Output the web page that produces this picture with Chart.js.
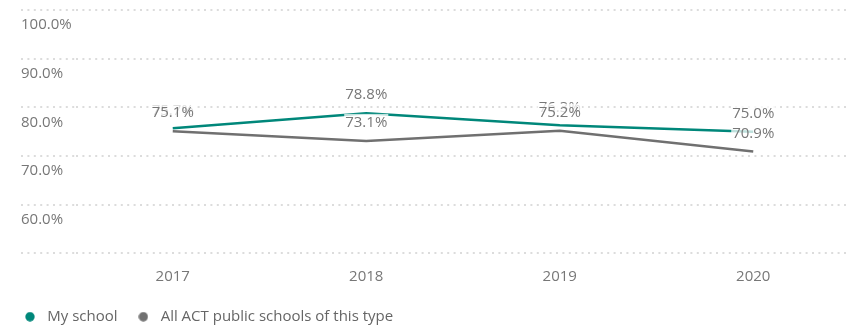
<!DOCTYPE html>
<html>
<head>
<meta charset="utf-8">
<script src="https://cdn.jsdelivr.net/npm/chart.js@4.4.1/dist/chart.umd.min.js"></script>
<style>
  html, body { margin: 0; padding: 0; background: #fff; }
  #wrap { width: 857px; height: 326px; }
</style>
</head>
<body>
<div id="wrap"><canvas id="retentionChart"></canvas></div>
<script>
// Retention rate by year, school vs. system average
const years = ['2017', '2018', '2019', '2020'];
const mySchool = [75.7, 78.8, 76.3, 75.0];
const allSchools = [75.1, 73.1, 75.2, 70.9];
const yTickValues = [50, 60, 70, 80, 90, 100];

const teal = '#00877a';
const grey = '#707070';
const gridColor = '#dcdcdc';
const textColor = '#777';

Chart.defaults.font.family = '"Open Sans", sans-serif';
Chart.defaults.font.size = 15;

// round legend markers
function dot(color) {
    const c = document.createElement('canvas');
    c.width = 10;
    c.height = 10;
    const g = c.getContext('2d');
    g.fillStyle = color;
    g.beginPath();
    g.arc(5, 5, 4.7, 0, Math.PI * 2);
    g.fill();
    return c;
}
const dots = [dot(teal), dot(grey)];

// value labels above each point, on a faded white box
const valueLabels = {
    id: 'valueLabels',
    afterDatasetsDraw(chart) {
        const ctx = chart.ctx;
        ctx.save();
        ctx.font = '15px "Open Sans", sans-serif';
        ctx.textAlign = 'center';
        ctx.textBaseline = 'middle';
        chart.data.datasets.forEach((ds, i) => {
            chart.getDatasetMeta(i).data.forEach((pt, j) => {
                const text = ds.data[j].toFixed(1) + '%';
                const w = ctx.measureText(text).width;
                const y = pt.y - 18;
                ctx.fillStyle = 'rgba(255,255,255,0.75)';
                ctx.fillRect(pt.x - w / 2 - 1, y - 9, w + 2, 18);
                ctx.fillStyle = textColor;
                ctx.fillText(text, pt.x, y);
            });
        });
        ctx.restore();
    }
};

// pull the legend back to the left edge
const legendShift = {
    id: 'legendShift',
    afterLayout(chart) {
        chart.legend.left = 4.2;
    }
};

const ctx = document.getElementById('retentionChart').getContext('2d');
new Chart(ctx, {
    type: 'line',
    data: {
        labels: years,
        datasets: [{
            label: 'My school',
            data: mySchool,
            borderColor: teal,
            backgroundColor: teal,
            borderWidth: 2.5,
            pointRadius: 0,
            tension: 0
        }, {
            label: 'All ACT public schools of this type',
            data: allSchools,
            borderColor: grey,
            backgroundColor: grey,
            borderWidth: 2.5,
            pointRadius: 0,
            tension: 0
        }]
    },
    options: {
        responsive: true,
        maintainAspectRatio: false,
        animation: false,
        layout: { padding: { left: 21, right: 7, top: 10, bottom: -8.2 } },
        scales: {
            x: {
                offset: true,
                grid: { display: false, drawTicks: false },
                border: { display: false },
                ticks: { color: textColor, padding: 14.7 },
                afterFit(s) {
                    s.height = 39.9;
                    s.paddingLeft = 0;
                    s.paddingRight = 0;
                }
            },
            y: {
                min: yTickValues[0],
                max: yTickValues[yTickValues.length - 1],
                border: { display: false, dash: [2, 4.4] },
                grid: {
                    color: gridColor,
                    lineWidth: 2,
                    tickLength: 55,
                    tickColor: gridColor,
                    tickBorderDash: [2, 4.4]
                },
                ticks: {
                    stepSize: 10,
                    color: textColor,
                    crossAlign: 'far',
                    labelOffset: 15,
                    padding: 0,
                    callback: v => v === yTickValues[0] ? '' : v.toFixed(1) + '%'
                },
                afterFit(s) {
                    s.width = 55;
                    s.paddingTop = 0;
                    s.paddingBottom = 0;
                }
            }
        },
        plugins: {
            legend: {
                position: 'bottom',
                align: 'start',
                labels: {
                    usePointStyle: true,
                    pointStyleWidth: 19.6,
                    padding: 16,
                    color: '#666',
                    generateLabels(chart) {
                        const items = Chart.defaults.plugins.legend.labels.generateLabels(chart);
                        items.forEach((it, i) => { it.pointStyle = dots[i]; });
                        return items;
                    }
                }
            },
            tooltip: { enabled: false }
        }
    },
    plugins: [valueLabels, legendShift]
});
</script>
</body>
</html>
